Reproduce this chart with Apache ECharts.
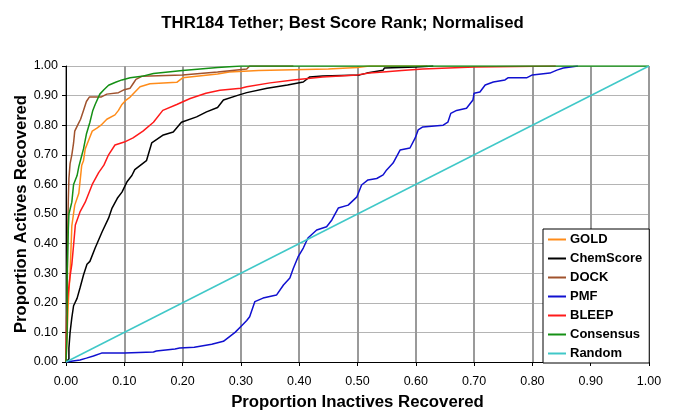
<!DOCTYPE html>
<html><head><meta charset="utf-8">
<script src="https://cdn.jsdelivr.net/npm/echarts@6/dist/echarts.min.js"></script>
<style>html,body{margin:0;padding:0;background:#fff}#c{width:685px;height:420px}</style>
</head><body><div id="c"></div>
<script>
const seriesNames = ["GOLD","ChemScore","DOCK","PMF","BLEEP","Consensus","Random"];
const tickLabels = ["0.00","0.10","0.20","0.30","0.40","0.50","0.60","0.70","0.80","0.90","1.00"];
const gold = [[0,0],[0.002,0.1],[0.004,0.2],[0.006,0.27],[0.007,0.3],[0.01,0.46],[0.015,0.53],[0.022,0.57],[0.027,0.665],[0.03,0.68],[0.033,0.72],[0.04,0.755],[0.045,0.78],[0.053,0.79],[0.06,0.8],[0.07,0.82],[0.084,0.835],[0.09,0.85],[0.096,0.87],[0.103,0.885],[0.11,0.895],[0.127,0.93],[0.144,0.94],[0.19,0.945],[0.2,0.96],[0.26,0.973],[0.28,0.98],[0.33,0.985],[0.45,0.99],[0.5,0.995],[0.52,1.0],[0.62,1.0]];
const chemscore = [[0,0],[0.005,0.01],[0.005,0.047],[0.007,0.1],[0.01,0.15],[0.013,0.19],[0.019,0.215],[0.024,0.25],[0.03,0.294],[0.036,0.33],[0.041,0.34],[0.05,0.385],[0.062,0.44],[0.073,0.486],[0.079,0.52],[0.088,0.553],[0.096,0.574],[0.105,0.61],[0.113,0.63],[0.118,0.65],[0.138,0.68],[0.147,0.74],[0.167,0.767],[0.184,0.777],[0.198,0.81],[0.224,0.828],[0.241,0.845],[0.26,0.86],[0.27,0.885],[0.293,0.9],[0.31,0.91],[0.345,0.925],[0.38,0.936],[0.407,0.946],[0.418,0.963],[0.44,0.966],[0.504,0.97],[0.516,0.976],[0.544,0.986],[0.546,0.993],[0.6,0.997],[0.63,1.0]];
const dock = [[0,0],[0.002,0.2],[0.003,0.45],[0.004,0.55],[0.005,0.62],[0.007,0.67],[0.01,0.7],[0.013,0.74],[0.015,0.78],[0.02,0.8],[0.025,0.82],[0.03,0.85],[0.035,0.88],[0.04,0.895],[0.06,0.895],[0.07,0.905],[0.09,0.91],[0.1,0.92],[0.11,0.925],[0.115,0.94],[0.12,0.955],[0.13,0.965],[0.2,0.97],[0.26,0.98],[0.31,0.99],[0.315,1.0],[0.39,1.0]];
const pmf = [[0,0],[0.024,0.007],[0.035,0.013],[0.047,0.02],[0.061,0.03],[0.1,0.03],[0.15,0.034],[0.155,0.037],[0.187,0.044],[0.195,0.047],[0.22,0.05],[0.25,0.06],[0.27,0.07],[0.29,0.1],[0.3,0.12],[0.31,0.14],[0.315,0.153],[0.324,0.204],[0.338,0.216],[0.361,0.226],[0.373,0.26],[0.384,0.284],[0.39,0.317],[0.398,0.355],[0.407,0.385],[0.415,0.419],[0.43,0.446],[0.447,0.457],[0.456,0.48],[0.467,0.52],[0.484,0.53],[0.499,0.558],[0.507,0.598],[0.518,0.615],[0.533,0.62],[0.544,0.632],[0.55,0.649],[0.561,0.672],[0.567,0.694],[0.573,0.716],[0.59,0.723],[0.599,0.757],[0.604,0.784],[0.612,0.794],[0.647,0.8],[0.655,0.81],[0.66,0.84],[0.67,0.85],[0.687,0.857],[0.698,0.885],[0.7,0.908],[0.71,0.912],[0.719,0.936],[0.733,0.946],[0.753,0.953],[0.758,0.96],[0.79,0.96],[0.8,0.97],[0.83,0.976],[0.842,0.986],[0.853,0.993],[0.878,1.0]];
const bleep = [[0,0],[0.001,0.15],[0.003,0.22],[0.007,0.29],[0.01,0.33],[0.013,0.395],[0.016,0.463],[0.024,0.507],[0.033,0.54],[0.045,0.6],[0.056,0.64],[0.065,0.665],[0.073,0.7],[0.084,0.733],[0.1,0.743],[0.115,0.757],[0.132,0.78],[0.15,0.81],[0.166,0.85],[0.19,0.87],[0.213,0.89],[0.24,0.908],[0.264,0.918],[0.3,0.925],[0.31,0.93],[0.35,0.943],[0.39,0.953],[0.44,0.963],[0.5,0.97],[0.52,0.976],[0.544,0.98],[0.576,0.985],[0.612,0.99],[0.7,0.997],[0.84,1.0]];
const consensus = [[0,0],[0.002,0.1],[0.002,0.3],[0.004,0.45],[0.005,0.5],[0.01,0.54],[0.013,0.6],[0.019,0.63],[0.022,0.66],[0.026,0.69],[0.03,0.72],[0.035,0.77],[0.041,0.81],[0.046,0.85],[0.05,0.87],[0.058,0.905],[0.065,0.92],[0.073,0.935],[0.085,0.945],[0.096,0.953],[0.11,0.96],[0.13,0.965],[0.15,0.975],[0.2,0.985],[0.26,0.995],[0.3,1.0],[1.0,1.0]];
const random = [[0,0],[1,1]];
const colors = ["#FF8C1A","#000000","#A0522D","#1010D0","#FF1A1A","#159015","#40C8C8"];
const datasets = [gold, chemscore, dock, pmf, bleep, consensus, random];

const chart = echarts.init(document.getElementById('c'), null, {renderer:'canvas'});
const font = '"Liberation Sans", Arial, sans-serif';
chart.setOption({
  animation:false,
  title:{text:"THR184 Tether; Best Score Rank; Normalised",left:'center',top:10,
    textStyle:{fontFamily:font,fontSize:16.8,fontWeight:'bold',color:'#000'}},
  grid:{left:66,top:66,right:36,bottom:58,containLabel:false,outerBoundsMode:'none'},
  legend:{orient:'vertical',left:543,top:229,icon:'rect',itemWidth:18,itemHeight:2,itemGap:4,
    padding:[3,7,2,5],backgroundColor:'#fff',borderColor:'#000',borderWidth:1,borderRadius:0,
    data:seriesNames,
    textStyle:{fontFamily:font,fontSize:13,fontWeight:'bold',color:'#000',lineHeight:15,padding:[0,0,0,-1]}},
  xAxis:{type:'value',min:0,max:1,interval:0.1,
    name:"Proportion Inactives Recovered",nameLocation:'middle',nameGap:32,nameMoveOverlap:false,
    nameTextStyle:{fontFamily:font,fontSize:16.8,fontWeight:'bold',color:'#000'},
    axisLine:{lineStyle:{color:'#000',width:1}},
    axisTick:{show:true,length:4,lineStyle:{color:'#000'}},
    axisLabel:{fontFamily:font,fontSize:12.5,color:'#000',margin:13,
      formatter:(v)=>tickLabels[Math.round(v*10)]},
    splitLine:{show:true,lineStyle:{color:'#9a9a9a',width:2}}},
  yAxis:{type:'value',min:0,max:1,interval:0.1,
    name:"Proportion Actives Recovered",nameLocation:'middle',nameGap:36,nameMoveOverlap:false,
    nameTextStyle:{fontFamily:font,fontSize:16.6,fontWeight:'bold',color:'#000'},
    axisLine:{show:true,lineStyle:{color:'#000',width:1}},
    axisTick:{show:true,length:4,lineStyle:{color:'#000'}},
    axisLabel:{fontFamily:font,fontSize:12.5,color:'#000',margin:8,
      formatter:(v)=>tickLabels[Math.round(v*10)]},
    splitLine:{show:true,lineStyle:{color:'#b4b4b4',width:1}}},
  series: seriesNames.map((n,i)=>({name:n,type:'line',data:datasets[i],showSymbol:false,symbol:'none',
    lineStyle:{color:colors[i],width:1.5},itemStyle:{color:colors[i]},z:2+i}))
});
</script></body></html>
